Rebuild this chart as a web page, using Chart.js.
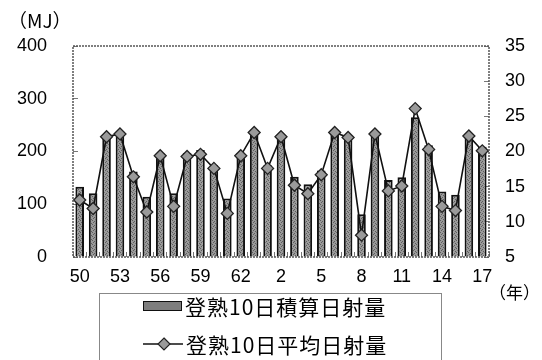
<!DOCTYPE html>
<html>
<head>
<meta charset="utf-8">
<script src="https://cdn.jsdelivr.net/npm/chart.js@4"></script>
<style>
    body { margin: 0; background: #fff; overflow: hidden; }
    #wrap { position: relative; width: 542px; height: 360px; }
    .txt { position: absolute; color: #000; font-family: "Noto Sans CJK JP", sans-serif; white-space: nowrap; }
    #legend { position: absolute; left: 99px; top: 293px; width: 341px; height: 80px; border: 1px solid #888; border-bottom: none; }
    .legendRow { position: absolute; left: 43px; height: 24px; display: flex; align-items: center; }
    .legendRow span { font-family: "Noto Sans CJK JP", sans-serif; font-size: 21px; letter-spacing: 1px; color: #000; margin-left: 3px; line-height: 24px; }
    .barSwatch { width: 37px; height: 8px; border: 1.5px solid #111; background: #7e7e7e; }
</style>
</head>
<body>
<div id="wrap">
    <canvas id="radiationChart" width="542" height="360"></canvas>
    <div class="txt" style="left:8px; top:6px; font-size:19px;">（MJ）</div>
    <div class="txt" style="left:489px; top:279px; font-size:17px;">（年）</div>
    <div id="legend">
        <div class="legendRow" style="top:0px;"><div class="barSwatch"></div><span>登熟10日積算日射量</span></div>
        <div class="legendRow" style="top:38px;">
            <svg width="40" height="14"><line x1="0" y1="7" x2="40" y2="7" stroke="#111" stroke-width="1.5"/><polygon points="21,1 27,7 21,13 15,7" fill="#9a9a9a" stroke="#222" stroke-width="1.2"/></svg>
            <span>登熟10日平均日射量</span>
        </div>
    </div>
</div>
<script>
const years = ['50', '51', '52', '53', '54', '55', '56', '57', '58', '59', '60', '61', '62', '63',
    '1', '2', '3', '4', '5', '6', '7', '8', '9', '10', '11', '12', '13', '14', '15', '16', '17'];

// 登熟10日積算日射量 (MJ)
const cumulativeRadiation = [133, 121, 231, 238, 162, 114, 197, 121, 197, 203, 174, 111, 197, 241,
    174, 231, 152, 138, 164, 241, 231, 81, 238, 146, 151, 265, 212, 124, 118, 234, 209];

// 登熟10日平均日射量 (MJ)
const averageRadiation = [13.1, 11.9, 22.1, 22.5, 16.4, 11.4, 19.4, 12.2, 19.3, 19.6, 17.6, 11.2, 19.4, 22.7,
    17.6, 22.1, 15.2, 14.0, 16.7, 22.7, 22.0, 8.1, 22.5, 14.4, 15.1, 26.1, 20.3, 12.2, 11.6, 22.2, 20.1];

const leftTicks = [0, 100, 200, 300, 400];
const rightTicks = [5, 10, 15, 20, 25, 30, 35];

function makeBarPattern() {
    var patternCanvas = document.createElement('canvas');
    patternCanvas.width = 4;
    patternCanvas.height = 4;
    var pctx = patternCanvas.getContext('2d');
    pctx.fillStyle = '#9a9a9a';
    pctx.fillRect(0, 0, 4, 4);
    pctx.fillStyle = '#5e5e5e';
    pctx.fillRect(0, 0, 1, 1);
    pctx.fillRect(2, 1, 1, 1);
    pctx.fillRect(1, 2, 1, 1);
    pctx.fillRect(3, 3, 1, 1);
    return pctx.createPattern(patternCanvas, 'repeat');
}

const frameBorder = {
    id: 'frameBorder',
    afterDatasetsDraw(chart) {
        var ctx = chart.ctx;
        var area = chart.chartArea;
        ctx.save();
        ctx.strokeStyle = '#555';
        ctx.lineWidth = 1.5;
        ctx.setLineDash([2, 1]);
        ctx.strokeRect(area.left, area.top, area.right - area.left, area.bottom - area.top);
        ctx.restore();
    }
};

const tickFont = { family: '"Liberation Sans", Arial, sans-serif', size: 18 };

function initChart() {
    var chartControl = document.getElementById('radiationChart');

    new Chart(chartControl, {
        data: {
            labels: years,
            datasets: [
                {
                    type: 'line',
                    label: '登熟10日平均日射量',
                    data: averageRadiation,
                    yAxisID: 'y1',
                    borderColor: '#111',
                    borderWidth: 1.6,
                    pointStyle: 'rectRot',
                    pointRadius: 6,
                    pointBackgroundColor: '#9a9a9a',
                    pointBorderColor: '#222',
                    pointBorderWidth: 1.3,
                    tension: 0,
                    order: 0
                },
                {
                    type: 'bar',
                    label: '登熟10日積算日射量',
                    data: cumulativeRadiation,
                    yAxisID: 'y',
                    backgroundColor: makeBarPattern(),
                    borderColor: '#111',
                    borderWidth: 2,
                    barPercentage: 0.64,
                    categoryPercentage: 1,
                    order: 1
                }
            ]
        },
        options: {
            responsive: false,
            animation: false,
            layout: {
                padding: { top: 46, bottom: 73, left: 0, right: 0 }
            },
            scales: {
                x: {
                    grid: {
                        drawOnChartArea: false,
                        tickLength: -5,
                        color: '#777'
                    },
                    border: { display: false },
                    ticks: {
                        autoSkip: false,
                        maxRotation: 0,
                        padding: 14,
                        color: '#000',
                        font: tickFont,
                        callback: function (value, index) {
                            return index % 3 === 0 ? years[index] : '';
                        }
                    },
                    afterFit: function (scale) { scale.height = 30; }
                },
                y: {
                    position: 'left',
                    min: leftTicks[0],
                    max: leftTicks[leftTicks.length - 1],
                    grid: {
                        drawOnChartArea: false,
                        tickLength: -5,
                        color: '#777'
                    },
                    border: { display: false },
                    ticks: {
                        stepSize: 100,
                        padding: 31,
                        color: '#000',
                        font: tickFont
                    },
                    afterFit: function (scale) { scale.width = 73; }
                },
                y1: {
                    position: 'right',
                    min: rightTicks[0],
                    max: rightTicks[rightTicks.length - 1],
                    grid: {
                        drawOnChartArea: false,
                        tickLength: -5,
                        color: '#777'
                    },
                    border: { display: false },
                    ticks: {
                        stepSize: 5,
                        padding: 21,
                        color: '#000',
                        font: tickFont
                    },
                    afterFit: function (scale) { scale.width = 53; }
                }
            },
            plugins: {
                legend: { display: false },
                tooltip: { enabled: false }
            }
        },
        plugins: [frameBorder]
    });
}

initChart();
</script>
</body>
</html>
